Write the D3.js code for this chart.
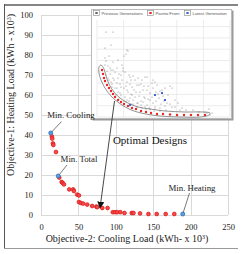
<!DOCTYPE html>
<html><head><meta charset="utf-8">
<script src="https://cdn.jsdelivr.net/npm/d3@7"></script>
<style>body{margin:0;background:#fff}svg{display:block}</style>
</head><body>
<script>
// ---------- main chart data ----------
const xTicks = [0, 50, 100, 150, 200, 250];
const yTicks = [0, 10, 20, 30, 40, 50, 60, 70, 80, 90, 100];
// Pareto front (Cooling load x, Heating load y), kWh x10^3
const paretoX = [14.5, 15, 16, 16.5, 20, 24.4, 27.6, 29, 30.7, 37.8, 43, 44, 48.4, 50.7, 50.7, 53.3, 56.4, 61.8, 68.4, 74, 75, 82, 89, 96, 99, 102, 106, 111.6, 121.3, 123.6, 132.4, 143.6, 154.7, 166.7, 178.2];
const paretoY = [39.3, 38.2, 35.8, 35, 31.5, 18.7, 16.5, 16, 15.3, 12.8, 12.8, 12, 10.2, 9.8, 6.5, 6, 5.7, 5.2, 4.5, 4.2, 3.9, 3.5, 3.5, 1.4, 1.4, 1.4, 1.4, 1.0, 1.0, 1.0, 0.8, 0.5, 0.5, 0.5, 0.5];
const extremeNames = ["Min. Cooling", "Min. Total", "Min. Heating"];
const extremeX = [13, 23, 189.5];
const extremeY = [41, 19.5, 0.5];

// ---------- inset (earlier optimisation run) data, inset units ----------
const insetXGrid = [0, 26.6, 53.2, 79.8, 106.4, 133];
const insetYGrid = [0, 11.3, 22.6, 33.9, 45.2, 56.5, 67.8, 79.1, 90.4];
const prevX = [9,16,14,8,12,8,9,31,29,27,30,11,13,16,20,25,26,32,36,40,44,48,51,56,63,62,67,8,18,26,33,45,50,55,58,60,50,43,38,33,23,20,15,27,41,50,53,48,28,56,35,42,65,68,75,47,78,70,58,45,75,85,102,108,110,115,11,14,17,21,23,19,22,27,30,31,34,37,30,36,39,42,44,46,53,55,59,61,64,52,40,34,29,13,10,16,21,24,38,41,33,29,25,71,73,81,89,96,69,63,57,49,112,113,
  9,12,15,18,21,24,28,32,36,40,44,48,53,58,63,68,73,78,83,46,51,56,35,30,24,20,16,14,22,34,47,59,66];
const prevY = [85,85,72,69,61,59,56,66,63,61,67,51,49,47,49,52,46,42,41,32,33,40,31,29,26,19,16,52,45,49,40,37,40,34,35,32,27,25,20,19,24,29,30,16,14,12,17,19,45,37,30,32,27,29,29,20,17,14,10,9,10,9,5,5,4,4,39,35,37,39,33,22,18,29,35,25,23,27,17,13,25,21,16,27,24,20,16,23,13,9,10,13,15,43,46,55,57,42,37,39,33,31,37,22,31,14,7,7,7,6,6,8,8,2,
  42,37,33,29,25,22,20,16,17,14,12,10,8,8,9,11,13,10,7,15,18,14,22,27,30,34,39,47,43,37,31,25,21];
const insetParetoX = [5,6,7,8,10,12,14,16,18,21,24,27,31,35,39,44,49,54,60,66,73,80,87,94,101,108];
const insetParetoY = [47,43,39,36,32,29,26,23,20,17,15,13,11,9,8,6,5,4,3,3,2.5,2,2,2,2,2];
const latestX = [58, 65, 33, 68];
const latestY = [22, 24, 12, 17];
const loopX = [2,2,4,8,14,22,32,44,63,83,103,112,113,106,88,68,53,41,31,23,17,12,9,7,4];
const loopY = [50,44,37,29,21,14,8,4,1,0,0,2,4,5,5,6,8,10,14,19,25,33,41,48,52];
const legendLabels = ["Previous Generations", "Pareto Front", "Latest Generation"];

const W = 244, H = 254;
const svg = d3.select("body").append("svg").attr("width", W).attr("height", H)
  .style("font-family", "'Liberation Serif', 'Times New Roman', serif");

const x = d3.scaleLinear().domain([0, 250]).range([41, 228]);
const y = d3.scaleLinear().domain([0, 100]).range([215, 15]);

// frame
svg.append("line").attr("x1", 4).attr("x2", 238).attr("y1", 5).attr("y2", 5).attr("stroke", "#858585").attr("stroke-width", 2);
svg.append("line").attr("x1", 4.5).attr("x2", 4.5).attr("y1", 4).attr("y2", 249).attr("stroke", "#555").attr("stroke-width", 1);
svg.append("line").attr("x1", 4).attr("x2", 238).attr("y1", 248.5).attr("y2", 248.5).attr("stroke", "#9a9a9a").attr("stroke-width", 1);

// gridlines
const grid = svg.append("g").attr("stroke", "#d9d9d9").attr("stroke-width", 1);
grid.selectAll("line.h").data(yTicks).join("line").attr("class", "h")
  .attr("x1", x(0)).attr("x2", x(250)).attr("y1", d => Math.round(y(d)) + 0.5).attr("y2", d => Math.round(y(d)) + 0.5);
grid.selectAll("line.v").data(xTicks).join("line").attr("class", "v")
  .attr("y1", y(0)).attr("y2", y(100)).attr("x1", d => Math.round(x(d)) + 0.5).attr("x2", d => Math.round(x(d)) + 0.5);

// axes via d3 axis, styled
const xAxis = svg.append("g").attr("transform", `translate(0,${y(0)})`)
  .call(d3.axisBottom(x).tickValues(xTicks).tickSize(0).tickPadding(9));
const yAxis = svg.append("g").attr("transform", `translate(${x(0)},0)`)
  .call(d3.axisLeft(y).tickValues(yTicks).tickSize(0).tickPadding(8));
[xAxis, yAxis].forEach(a => {
  a.select(".domain").remove();
  a.selectAll("text").attr("font-family", "'Liberation Serif', serif").attr("font-size", 8.5).attr("fill", "#222");
});

// axis titles
const xt = svg.append("text").attr("x", 127).attr("y", 242).attr("text-anchor", "middle").attr("font-size", 10).attr("fill", "#222");
xt.append("tspan").text("Objective-2: Cooling Load (kWh- x 10");
xt.append("tspan").attr("dy", -3.5).attr("font-size", 6).text("3");
xt.append("tspan").attr("dy", 3.5).text(")");
const yt = svg.append("text").attr("transform", "translate(14,95) rotate(-90)").attr("text-anchor", "middle").attr("font-size", 10).attr("fill", "#222");
yt.append("tspan").text("Objective-1: Heating Load (kWh - x10");
yt.append("tspan").attr("dy", -3.5).attr("font-size", 6).text("3");
yt.append("tspan").attr("dy", 3.5).text(")");

// ---------- inset ----------
const ix = d3.scaleLinear().domain([0, 133]).range([97, 230]);
const iy = d3.scaleLinear().domain([0, 97]).range([117, 20]);
const inset = svg.append("g");
inset.append("rect").attr("x", 92.5).attr("y", 10.5).attr("width", 141).attr("height", 110).attr("fill", "#9a9a9a");
inset.append("rect").attr("x", 91.5).attr("y", 9.5).attr("width", 140).attr("height", 109).attr("fill", "#fff").attr("stroke", "#bbb");
const ig = inset.append("g").attr("stroke", "#e6e6e6").attr("stroke-width", 0.8);
ig.selectAll("line.h").data(insetYGrid).join("line").attr("class", "h")
  .attr("x1", ix(0)).attr("x2", ix(133)).attr("y1", d => iy(d)).attr("y2", d => iy(d));
ig.selectAll("line.v").data(insetXGrid).join("line").attr("class", "v")
  .attr("y1", iy(0)).attr("y2", iy(97)).attr("x1", d => ix(d)).attr("x2", d => ix(d));

inset.append("g").selectAll("circle").data(prevX).join("circle")
  .attr("cx", d => ix(d)).attr("cy", (d, i) => iy(prevY[i])).attr("r", 0.6).attr("fill", "#808080");
inset.append("g").selectAll("circle").data(insetParetoX).join("circle")
  .attr("cx", d => ix(d)).attr("cy", (d, i) => iy(insetParetoY[i])).attr("r", 1.2).attr("fill", "#e22");
inset.append("g").selectAll("rect").data(latestX).join("rect")
  .attr("x", d => ix(d) - 1).attr("y", (d, i) => iy(latestY[i]) - 1).attr("width", 2).attr("height", 2).attr("fill", "#46d");
const loopLine = d3.line().x(d => ix(d[0])).y(d => iy(d[1])).curve(d3.curveCatmullRomClosed);
inset.append("path").attr("d", loopLine(loopX.map((v, i) => [v, loopY[i]])))
  .attr("fill", "none").attr("stroke", "#666").attr("stroke-width", 0.7);

// inset legend
const legX = [93, 147, 184];
const legColors = ["#666", "#e22", "#46d"];
const leg = inset.append("g").style("font-family", "'Liberation Sans', Arial, sans-serif");
legendLabels.forEach((t, i) => {
  leg.append("rect").attr("x", legX[i] + 0.5).attr("y", 10.5).attr("width", 6).attr("height", 5).attr("fill", "#fff").attr("stroke", "#888").attr("stroke-width", 0.6);
  leg.append("rect").attr("x", legX[i] + 2.3).attr("y", 12).attr("width", 2.4).attr("height", 2).attr("fill", legColors[i]);
  leg.append("text").attr("x", legX[i] + 8.5).attr("y", 15).attr("font-size", 4.3).attr("fill", "#555").text(t);
});

// ---------- main Pareto front ----------
svg.append("g").selectAll("circle").data(paretoX).join("circle")
  .attr("cx", d => x(d)).attr("cy", (d, i) => y(paretoY[i])).attr("r", 1.9)
  .attr("fill", "#f24a4a").attr("stroke", "#e01010").attr("stroke-width", 0.7);

// leader lines + labels for extremes
const labelPos = [[71, 118, 61.5, 121.5], [79, 162, 67, 165], [192, 191, 189.5, 193]];
extremeNames.forEach((n, i) => {
  svg.append("line").attr("x1", labelPos[i][2]).attr("y1", labelPos[i][3])
    .attr("x2", x(extremeX[i])).attr("y2", y(extremeY[i]))
    .attr("stroke", "#444").attr("stroke-width", 0.7);
  svg.append("text").attr("x", labelPos[i][0]).attr("y", labelPos[i][1]).attr("text-anchor", "middle")
    .attr("font-size", 8.8).attr("fill", "#222").text(n);
});
svg.append("g").selectAll("circle").data(extremeX).join("circle")
  .attr("cx", d => x(d)).attr("cy", (d, i) => y(extremeY[i])).attr("r", 2.0)
  .attr("fill", "#5aa0e0").attr("stroke", "#2b6cb5").attr("stroke-width", 0.8);

// arrow to "Optimal Designs"
svg.append("defs").append("marker").attr("id", "ah").attr("viewBox", "0 0 10 10")
  .attr("refX", 9).attr("refY", 5).attr("markerWidth", 7).attr("markerHeight", 7).attr("orient", "auto")
  .attr("markerUnits", "userSpaceOnUse")
  .append("path").attr("d", "M0,0L10,5L0,10Z").attr("fill", "#111");
svg.append("line").attr("x1", 114.5).attr("y1", 101).attr("x2", 100).attr("y2", 208)
  .attr("stroke", "#333").attr("stroke-width", 0.9).attr("marker-end", "url(#ah)");
svg.append("text").attr("x", 150).attr("y", 144).attr("text-anchor", "middle").attr("font-size", 11).attr("fill", "#111").text("Optimal Designs");
</script>
</body></html>
